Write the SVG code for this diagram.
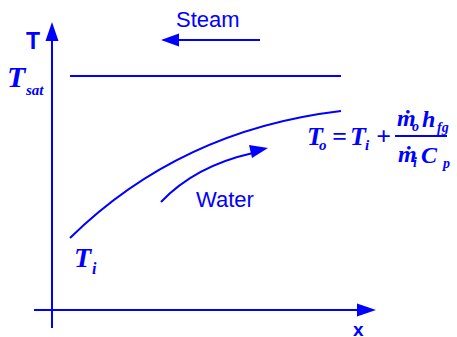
<svg xmlns="http://www.w3.org/2000/svg" width="457" height="337" viewBox="0 0 457 337">
<style>
.ln{stroke:#0000FF;stroke-width:2;fill:none}
.ah{fill:#0000FF;stroke:none}
.sans{font-family:"Liberation Sans",Arial,sans-serif;fill:#0000FF}
.b{font-weight:bold}
.m{font-family:"Liberation Serif","DejaVu Serif",serif;font-weight:bold;font-style:italic;fill:#0000FF}
</style>
<rect width="457" height="337" fill="#FFFFFF"/>
<g id="connectors">
<line class="ln" x1="52" y1="40" x2="52" y2="328"/>
<polygon class="ah" points="52,22 58.5,41 45.5,41"/>
<line class="ln" x1="34" y1="310" x2="358" y2="310"/>
<polygon class="ah" points="376,310 357,303.5 357,316.5"/>
<line class="ln" x1="260" y1="40" x2="178" y2="40"/>
<polygon class="ah" points="161,40 179,33.5 179,46.5"/>
<line class="ln" x1="70" y1="76" x2="341" y2="76"/>
<path class="ln" d="M70,238 Q180,130 341,111"/>
<path class="ln" d="M161,202 Q195,166 253,153"/>
<polygon class="ah" points="268,148 249,145 252,158"/>
</g>
<g id="labels">
<text class="sans b" x="26" y="49" font-size="23">T</text>
<text class="sans" x="176" y="27" font-size="22">Steam</text>
<text class="sans" x="196" y="207" font-size="22">Water</text>
<text class="sans b" x="353" y="336" font-size="19">x</text>
<text class="m" x="7" y="87" font-size="30">T</text>
<text class="m" x="26" y="95" font-size="15">sat</text>
<text class="m" x="74" y="267" font-size="28">T</text>
<text class="m" x="92" y="274" font-size="16">i</text>
</g>
<g id="equation">
<text class="m" x="307" y="145" font-size="26">T</text>
<text class="m" x="319" y="150" font-size="15">o</text>
<text class="m" x="332" y="145" font-size="26">=</text>
<text class="m" x="350" y="145" font-size="26">T</text>
<text class="m" x="365" y="150" font-size="15">i</text>
<text class="m" x="376" y="145" font-size="26">+</text>
<line class="ln" x1="395" y1="136" x2="447" y2="136"/>
<text class="m" x="397" y="126" font-size="24">ṁ</text>
<text class="m" x="412" y="131" font-size="14">o</text>
<text class="m" x="422" y="127" font-size="24">h</text>
<text class="m" x="437" y="132" font-size="14">fg</text>
<text class="m" x="398" y="162" font-size="24">ṁ</text>
<text class="m" x="413" y="167" font-size="14">i</text>
<text class="m" x="421" y="163" font-size="24">C</text>
<text class="m" x="443" y="168" font-size="14">p</text>
</g>
</svg>
